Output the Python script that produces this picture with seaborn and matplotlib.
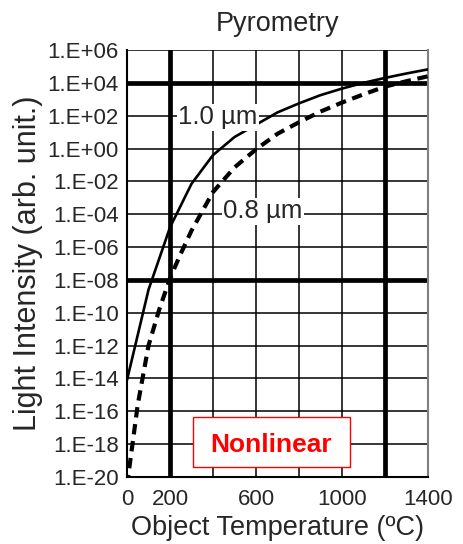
import numpy as np
import pandas as pd
import matplotlib
matplotlib.use("Agg")
import matplotlib.pyplot as plt
import seaborn as sns
from matplotlib.ticker import (FixedLocator, FixedFormatter, LogLocator,
                               MultipleLocator, NullFormatter)
from matplotlib.patches import Rectangle

# ---------------- data ----------------
temps_10um = [0, 100, 200, 300, 400, 500, 600, 700, 800, 900, 1000, 1100, 1200, 1300, 1400]
log_intensity_10um = [-14.1, -8.6, -4.8, -2.15, -0.4, 0.7, 1.45, 2.2, 2.75, 3.25, 3.65,
                      4.0, 4.3, 4.57, 4.82]

temps_08um = [0, 50, 100, 150, 200, 250, 300, 400, 500, 600, 700, 800, 900, 1000,
              1100, 1200, 1300, 1400]
log_intensity_08um = [-20.5, -15.6, -12.0, -9.8, -7.9, -6.4, -5.0, -2.65, -1.15, -0.05,
                      0.9, 1.6, 2.25, 2.8, 3.3, 3.77, 4.1, 4.4]

series_labels = ["1.0 µm", "0.8 µm"]

x_tick_values = [0, 200, 400, 600, 800, 1000, 1200, 1400]
x_tick_labels = ["0", "200", "", "600", "", "1000", "", "1400"]
y_tick_exponents = [-20, -18, -16, -14, -12, -10, -8, -6, -4, -2, 0, 2, 4, 6]
y_tick_labels = ["1.E-20", "1.E-18", "1.E-16", "1.E-14", "1.E-12", "1.E-10", "1.E-08",
                 "1.E-06", "1.E-04", "1.E-02", "1.E+00", "1.E+02", "1.E+04", "1.E+06"]

title_text = "Pyrometry"
x_label = "Object Temperature (ºC)"
y_label = "Light Intensity (arb. unit.)"
note_text = "Nonlinear"

# ---------------- figure ----------------
sns.set_style("white")
plt.rcParams["font.family"] = ["Liberation Sans", "DejaVu Sans"]

df10 = pd.DataFrame({"T": temps_10um, "I": 10.0 ** np.array(log_intensity_10um)})
df08 = pd.DataFrame({"T": temps_08um, "I": 10.0 ** np.array(log_intensity_08um)})

fig = plt.figure(figsize=(4.63, 5.44), dpi=100)
fig.patch.set_facecolor("white")
ax = fig.add_axes([0.2743, 0.1232, 0.6501, 0.7849])
ax.set_yscale("log")

sns.lineplot(data=df10, x="T", y="I", ax=ax, color="black", lw=1.9, zorder=5)
sns.lineplot(data=df08, x="T", y="I", ax=ax, color="black", lw=3.0, zorder=5)
ax.lines[-1].set_dashes((2.5, 1.6))
ax.lines[-1].set_dash_capstyle("butt")

ax.set_xlim(0, 1400)
ax.set_ylim(1e-20, 1e6)

ax.xaxis.set_major_locator(FixedLocator(x_tick_values))
ax.xaxis.set_major_formatter(FixedFormatter(x_tick_labels))
ax.xaxis.set_minor_locator(MultipleLocator(20))
ax.yaxis.set_major_locator(FixedLocator([10.0 ** e for e in y_tick_exponents]))
ax.yaxis.set_major_formatter(FixedFormatter(y_tick_labels))
ax.yaxis.set_minor_locator(LogLocator(base=10, subs=np.arange(1, 10), numticks=400))
ax.yaxis.set_minor_formatter(NullFormatter())

ax.grid(True, which="major", color="black", lw=1.1, zorder=1)
ax.set_axisbelow(True)
for xv in (200, 1200):
    ax.axvline(xv, color="black", lw=3.4, zorder=2)
for yv in (1e4, 1e-8):
    ax.axhline(yv, color="black", lw=3.4, zorder=2)

ax.tick_params(axis="both", which="major", labelsize=16, length=3, width=1,
               color="black", direction="out")
ax.tick_params(axis="y", which="major", pad=3.0)
ax.tick_params(axis="x", which="major", pad=5.5)
ax.tick_params(axis="both", which="minor", length=2.5, width=0.8, color="black",
               direction="out")

for side in ("left", "bottom"):
    ax.spines[side].set_color("black")
    ax.spines[side].set_linewidth(1.5)
ax.spines["top"].set_visible(False)
ax.spines["right"].set_color("#808080")
ax.spines["right"].set_linewidth(1.5)

ax.set_title(title_text, fontsize=19.5, pad=14)
ax.set_xlabel(x_label, fontsize=19.5, labelpad=4)
ax.set_ylabel(y_label, fontsize=22, labelpad=3)

# curve labels with white background
ax.text(238, 10 ** 1.47, series_labels[0], fontsize=18.5, ha="left", va="baseline",
        zorder=10, bbox=dict(facecolor="white", edgecolor="none", pad=1))
ax.text(447, 10 ** -4.25, series_labels[1], fontsize=18.5, ha="left", va="baseline",
        zorder=10, bbox=dict(facecolor="white", edgecolor="none", pad=1))

# "Nonlinear" box
ax.add_patch(Rectangle((0.218, 0.024), 0.523, 0.117, transform=ax.transAxes,
                       facecolor="white", edgecolor="red", lw=1.0, zorder=8))
ax.text(0.478, 0.0585, note_text, transform=ax.transAxes, color="red",
        fontsize=19, fontweight="bold", ha="center", va="baseline", zorder=9)

fig.savefig("out.png", dpi=100)
